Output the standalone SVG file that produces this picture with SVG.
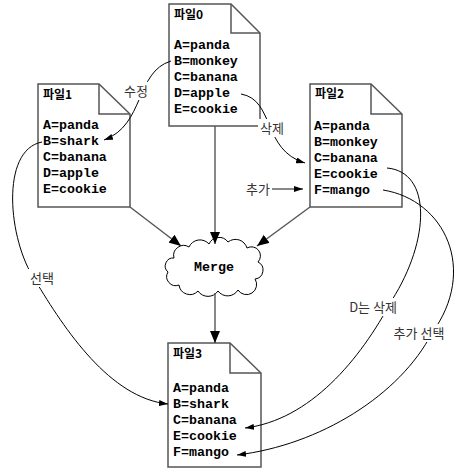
<svg xmlns="http://www.w3.org/2000/svg" width="455" height="469" viewBox="0 0 455 469">
<style>
.doc{fill:#fff;stroke:#555;stroke-width:1.5;stroke-linejoin:miter}
.fold{fill:none;stroke:#555;stroke-width:1.5}
.mono{font-family:"Liberation Mono","DejaVu Sans Mono",monospace;font-size:13.3px;font-weight:bold;fill:#000}
.title{font-family:"Noto Sans CJK KR","Liberation Sans",sans-serif;font-size:12px;font-weight:bold;fill:#000}
.lbl{font-family:"Noto Sans CJK KR","Liberation Sans",sans-serif;font-size:13px;fill:#333}
.conn{fill:none;stroke:#555;stroke-width:1.4}
.curve{fill:none;stroke:#000;stroke-width:1}
.bg{fill:#fff}
</style>
<defs>
<marker id="big" markerUnits="userSpaceOnUse" markerWidth="12" markerHeight="10" refX="12" refY="5" orient="auto">
<path d="M0,0 L12,5 L0,10 Z" fill="#000"/>
</marker>
<marker id="small" markerUnits="userSpaceOnUse" markerWidth="9" markerHeight="6" refX="9" refY="3" orient="auto">
<path d="M0,0 L9,3 L0,6 Z" fill="#000"/>
</marker>
</defs>
<rect width="455" height="469" fill="#fff"/>

<g id="file0">
<path class="doc" d="M169,4 H231 L260,33 V126 H169 Z"/>
<path class="fold" d="M231,4 V33 H260"/>
<text class="title" x="174" y="19">파일0</text>
<text class="mono" x="174" y="49">A=panda</text>
<text class="mono" x="174" y="65">B=monkey</text>
<text class="mono" x="174" y="81">C=banana</text>
<text class="mono" x="174" y="97">D=apple</text>
<text class="mono" x="174" y="113">E=cookie</text>
</g>

<g id="file1">
<path class="doc" d="M38,84 H99 L130,114 V207 H38 Z"/>
<path class="fold" d="M99,84 V114 H130"/>
<text class="title" x="43" y="99">파일1</text>
<text class="mono" x="43" y="129">A=panda</text>
<text class="mono" x="43" y="145">B=shark</text>
<text class="mono" x="43" y="161">C=banana</text>
<text class="mono" x="43" y="177">D=apple</text>
<text class="mono" x="43" y="193">E=cookie</text>
</g>

<g id="file2">
<path class="doc" d="M310,84 H371 L402,114 V207 H310 Z"/>
<path class="fold" d="M371,84 V114 H402"/>
<text class="title" x="315" y="98">파일2</text>
<text class="mono" x="314" y="130">A=panda</text>
<text class="mono" x="314" y="146">B=monkey</text>
<text class="mono" x="314" y="162">C=banana</text>
<text class="mono" x="314" y="178">E=cookie</text>
<text class="mono" x="314" y="194">F=mango</text>
</g>

<g id="file3">
<path class="doc" d="M168,343 H230 L261,373 V467 H168 Z"/>
<path class="fold" d="M230,343 V373 H261"/>
<text class="title" x="173" y="358">파일3</text>
<text class="mono" x="173" y="392">A=panda</text>
<text class="mono" x="173" y="408">B=shark</text>
<text class="mono" x="173" y="424">C=banana</text>
<text class="mono" x="173" y="440">E=cookie</text>
<text class="mono" x="173" y="456">F=mango</text>
</g>

<g id="merge">
<path d="M174,258 A10,10 0 0 1 189,247 A12,12 0 0 1 209,244 A11,11 0 0 1 228,242 A12,12 0 0 1 247,248 A9,9 0 0 1 258,262 A9,9 0 0 1 255,279 A10,10 0 0 1 238,290 A12,12 0 0 1 218,291 A12,12 0 0 1 198,291 A11,11 0 0 1 179,285 A9,9 0 0 1 168,272 A8,8 0 0 1 174,258 Z" fill="#fff" stroke="#000" stroke-width="1"/>
<text class="mono" x="214" y="271" text-anchor="middle">Merge</text>
</g>

<g id="connectors">
<path class="conn" d="M215,126 V244" marker-end="url(#big)"/>
<path class="conn" d="M130,207 L181,246" marker-end="url(#big)"/>
<path class="conn" d="M310,207 L257,246" marker-end="url(#big)"/>
<path class="conn" d="M215,293 V343" marker-end="url(#big)"/>
<path class="conn" d="M272,189 H303" marker-end="url(#small)"/>
<path class="curve" d="M171,61 C135,72 145,125 104,140" marker-end="url(#small)"/>
<path class="curve" d="M241,94 C275,100 262,150 305,163" marker-end="url(#small)"/>
<path class="curve" d="M42,142 C0,150 8,240 35,280 C65,330 110,398 168,404" marker-end="url(#small)"/>
<path class="curve" d="M387,168 C432,172 430,240 392,300 C360,360 310,420 245,428" marker-end="url(#small)"/>
<path class="curve" d="M383,190 C445,200 478,270 432,333 C400,395 320,445 237,455" marker-end="url(#small)"/>
</g>

<g id="labels">
<rect class="bg" x="122" y="82" width="28" height="18"/>
<text class="lbl" x="136" y="96" text-anchor="middle">수정</text>
<rect class="bg" x="258" y="119" width="28" height="18"/>
<text class="lbl" x="272" y="133" text-anchor="middle">삭제</text>
<rect class="bg" x="246" y="180" width="24" height="18"/>
<text class="lbl" x="258" y="194" text-anchor="middle">추가</text>
<rect class="bg" x="28" y="269" width="28" height="18"/>
<text class="lbl" x="42" y="283" text-anchor="middle">선택</text>
<rect class="bg" x="345" y="298" width="57" height="18"/>
<text class="lbl" x="373" y="312" text-anchor="middle">D는 삭제</text>
<rect class="bg" x="390" y="324" width="58" height="18"/>
<text class="lbl" x="419" y="338" text-anchor="middle">추가 선택</text>
</g>
</svg>
